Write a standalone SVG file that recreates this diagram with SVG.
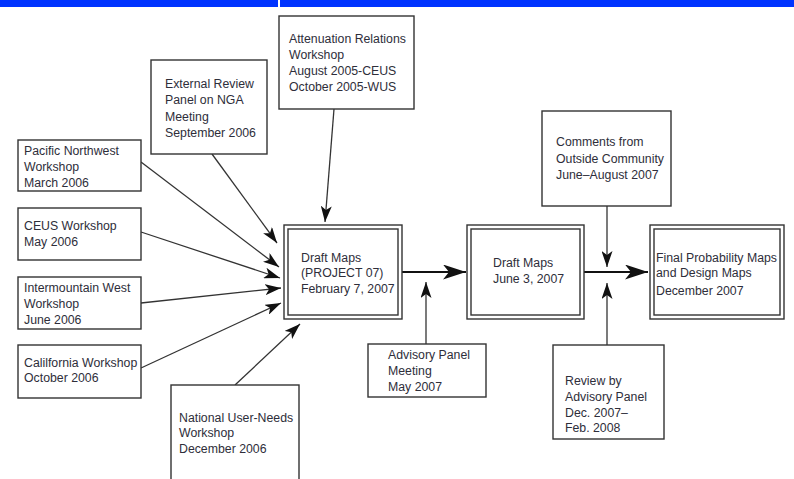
<svg xmlns="http://www.w3.org/2000/svg" width="794" height="479" viewBox="0 0 794 479">
<style>
.b{fill:#fff;stroke:#333;stroke-width:1.4}
.t{font-family:"Liberation Sans",Arial,sans-serif;font-size:12.3px;fill:#2e2e3a}
.c{stroke:#333;stroke-width:1.3;fill:none}
.m{stroke:#111;stroke-width:2.2;fill:none}
</style>
<defs>
<marker id="a" markerUnits="userSpaceOnUse" viewBox="0 0 16 11" refX="16" refY="5.5" markerWidth="16" markerHeight="11" orient="auto"><path d="M0,0 L16,5.5 L0,11 L4,5.5 z" fill="#111"/></marker>
<marker id="A" markerUnits="userSpaceOnUse" viewBox="0 0 23 15" refX="23" refY="7.5" markerWidth="23" markerHeight="15" orient="auto"><path d="M0,0 L23,7.5 L0,15 L6,7.5 z" fill="#111"/></marker>
</defs>
<rect x="0" y="0" width="278" height="7" fill="#0033ff"/>
<rect x="280" y="0" width="514" height="7" fill="#0033ff"/>
<g id="connectors">
<line class="c" x1="334" y1="109" x2="325" y2="222" marker-end="url(#a)"/>
<line class="c" x1="212" y1="154" x2="277" y2="243" marker-end="url(#a)"/>
<line class="c" x1="141" y1="162" x2="279" y2="267" marker-end="url(#a)"/>
<line class="c" x1="141" y1="232" x2="280" y2="278" marker-end="url(#a)"/>
<line class="c" x1="141" y1="303" x2="281" y2="288" marker-end="url(#a)"/>
<line class="c" x1="141" y1="368" x2="281" y2="303" marker-end="url(#a)"/>
<line class="c" x1="235" y1="385" x2="300" y2="324" marker-end="url(#a)"/>
<line class="c" x1="426" y1="344" x2="426" y2="282" marker-end="url(#a)"/>
<line class="c" x1="607" y1="206" x2="607" y2="267" marker-end="url(#a)"/>
<line class="c" x1="607" y1="345" x2="607" y2="283" marker-end="url(#a)"/>
<line class="m" x1="402" y1="272" x2="466" y2="272" marker-end="url(#A)"/>
<line class="m" x1="584" y1="272" x2="648" y2="272" marker-end="url(#A)"/>
</g>
<g id="attenuation"><rect class="b" x="279" y="16" width="135" height="93"/>
<text class="t" x="289" y="43">Attenuation Relations</text><text class="t" x="289" y="59">Workshop</text><text class="t" x="289" y="75">August 2005-CEUS</text><text class="t" x="289" y="91">October 2005-WUS</text></g>
<g id="external"><rect class="b" x="151" y="60" width="116" height="94"/>
<text class="t" x="165" y="88">External Review</text><text class="t" x="165" y="104">Panel on NGA</text><text class="t" x="165" y="121">Meeting</text><text class="t" x="165" y="137">September 2006</text></g>
<g id="pacific"><rect class="b" x="18" y="140" width="123" height="51"/>
<text class="t" x="24" y="155">Pacific Northwest</text><text class="t" x="24" y="171">Workshop</text><text class="t" x="24" y="187">March 2006</text></g>
<g id="ceus"><rect class="b" x="18" y="208" width="123" height="52"/>
<text class="t" x="24" y="230">CEUS Workshop</text><text class="t" x="24" y="246">May 2006</text></g>
<g id="intermountain"><rect class="b" x="18" y="277" width="123" height="52"/>
<text class="t" x="24" y="292">Intermountain West</text><text class="t" x="24" y="308">Workshop</text><text class="t" x="24" y="324">June 2006</text></g>
<g id="california"><rect class="b" x="18" y="345" width="123" height="53"/>
<text class="t" x="24" y="367">Calilfornia Workshop</text><text class="t" x="24" y="382">October 2006</text></g>
<g id="national"><rect class="b" x="171" y="385" width="128" height="100"/>
<text class="t" x="179" y="422">National User-Needs</text><text class="t" x="179" y="437">Workshop</text><text class="t" x="179" y="453">December 2006</text></g>
<g id="draft1"><rect class="b" x="284" y="225" width="118" height="94"/><rect class="b" x="288" y="229" width="110" height="86"/>
<text class="t" x="301" y="262">Draft Maps</text><text class="t" x="301" y="277">(PROJECT 07)</text><text class="t" x="301" y="293">February 7, 2007</text></g>
<g id="draft2"><rect class="b" x="467" y="225" width="117" height="94"/><rect class="b" x="471" y="229" width="109" height="86"/>
<text class="t" x="493" y="267">Draft Maps</text><text class="t" x="493" y="283">June 3, 2007</text></g>
<g id="final"><rect class="b" x="650" y="225" width="134" height="94"/><rect class="b" x="654" y="229" width="126" height="86"/>
<text class="t" x="656" y="262">Final Probability Maps</text><text class="t" x="656" y="277">and Design Maps</text><text class="t" x="656" y="295">December 2007</text></g>
<g id="comments"><rect class="b" x="542" y="111" width="129" height="95"/>
<text class="t" x="556" y="146">Comments from</text><text class="t" x="556" y="163">Outside Community</text><text class="t" x="556" y="179">June–August 2007</text></g>
<g id="advisory"><rect class="b" x="368" y="344" width="118" height="53"/>
<text class="t" x="388" y="359">Advisory Panel</text><text class="t" x="388" y="375">Meeting</text><text class="t" x="388" y="391">May 2007</text></g>
<g id="review"><rect class="b" x="553" y="345" width="111" height="94"/>
<text class="t" x="565" y="385">Review by</text><text class="t" x="565" y="401">Advisory Panel</text><text class="t" x="565" y="417">Dec. 2007–</text><text class="t" x="565" y="432">Feb. 2008</text></g>
</svg>
